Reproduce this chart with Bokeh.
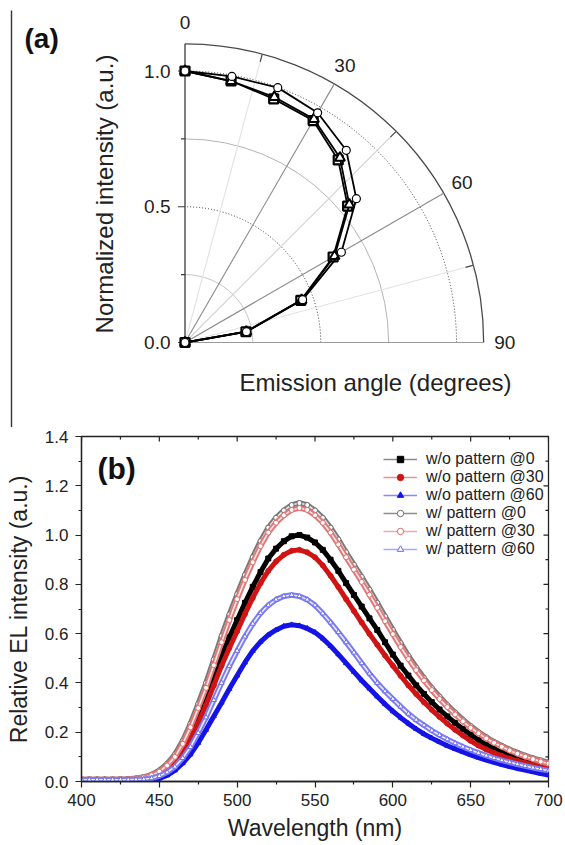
import numpy as np
from bokeh.plotting import figure
from bokeh.layouts import column
from bokeh.models import Range1d, FixedTicker, PrintfTickFormatter, Legend, LegendItem, Label
from bokeh.core.properties import value
from bokeh.embed import file_html
from bokeh.resources import INLINE

FONT = "Liberation Sans"

# ---------------- (a) angular distribution ----------------
angle_deg = [0, 10, 20, 30, 40, 50, 60, 70, 80, 90]
r_square = [1.0, 0.978, 0.955, 0.944, 0.878, 0.782, 0.630, 0.454, 0.228, 0.0]
r_triangle = [1.0, 0.978, 0.962, 0.950, 0.888, 0.790, 0.636, 0.457, 0.229, 0.0]
r_circle = [1.0, 0.995, 0.999, 0.977, 0.924, 0.824, 0.665, 0.461, 0.230, 0.0]
radial_ticks = [0.0, 0.5, 1.0]
radial_minor = [0.25, 0.75]
radial_tick_labels = ["0.0", "0.5", "1.0"]
angle_ticks = [0, 30, 60, 90]
angle_tick_labels = ["0", "30", "60", "90"]

# ---------------- (b) EL spectra ----------------
wavelength = list(range(400, 705, 5))
wo_0 = [0.007, 0.007, 0.007, 0.007, 0.007, 0.007, 0.008, 0.009, 0.012, 0.018,
        0.030, 0.052, 0.085, 0.132, 0.190, 0.262, 0.340, 0.425, 0.510, 0.585,
        0.655, 0.725, 0.790, 0.850, 0.905, 0.945, 0.975, 0.995, 1.000, 0.990,
        0.970, 0.940, 0.900, 0.855, 0.805, 0.757, 0.710, 0.662, 0.615, 0.565,
        0.515, 0.470, 0.430, 0.390, 0.355, 0.322, 0.292, 0.264, 0.238, 0.213,
        0.190, 0.168, 0.149, 0.133, 0.119, 0.107, 0.096, 0.087, 0.079, 0.072,
        0.066]
wo_30 = [0.007, 0.007, 0.007, 0.007, 0.007, 0.007, 0.008, 0.009, 0.011, 0.016,
         0.027, 0.046, 0.075, 0.117, 0.170, 0.237, 0.310, 0.390, 0.470, 0.542,
         0.610, 0.680, 0.745, 0.805, 0.855, 0.893, 0.920, 0.936, 0.940, 0.930,
         0.910, 0.877, 0.835, 0.789, 0.740, 0.692, 0.645, 0.599, 0.555, 0.511,
         0.470, 0.429, 0.390, 0.355, 0.322, 0.291, 0.262, 0.235, 0.210, 0.187,
         0.165, 0.146, 0.130, 0.116, 0.104, 0.093, 0.084, 0.075, 0.068, 0.061,
         0.055]
wo_60 = [0.007, 0.007, 0.007, 0.007, 0.006, 0.006, 0.005, 0.005, 0.004, 0.006,
         0.012, 0.025, 0.045, 0.074, 0.110, 0.157, 0.210, 0.265, 0.320, 0.376,
         0.430, 0.483, 0.530, 0.567, 0.595, 0.615, 0.630, 0.636, 0.632, 0.621,
         0.605, 0.580, 0.550, 0.516, 0.480, 0.445, 0.410, 0.377, 0.345, 0.314,
         0.285, 0.259, 0.235, 0.213, 0.193, 0.176, 0.160, 0.145, 0.132, 0.120,
         0.108, 0.097, 0.087, 0.078, 0.069, 0.061, 0.053, 0.046, 0.039, 0.032,
         0.026]
w_0 = [0.008, 0.008, 0.008, 0.008, 0.008, 0.009, 0.010, 0.013, 0.018, 0.028,
       0.045, 0.072, 0.110, 0.165, 0.235, 0.315, 0.400, 0.495, 0.590, 0.678,
       0.760, 0.838, 0.910, 0.975, 1.030, 1.070, 1.100, 1.122, 1.130, 1.122,
       1.100, 1.070, 1.030, 0.982, 0.930, 0.880, 0.830, 0.778, 0.725, 0.670,
       0.615, 0.562, 0.510, 0.463, 0.420, 0.380, 0.345, 0.310, 0.280, 0.251,
       0.225, 0.201, 0.180, 0.161, 0.145, 0.130, 0.117, 0.105, 0.095, 0.086,
       0.077]
w_30 = [0.008, 0.008, 0.008, 0.008, 0.008, 0.008, 0.009, 0.012, 0.016, 0.025,
        0.040, 0.065, 0.100, 0.153, 0.220, 0.298, 0.380, 0.472, 0.565, 0.655,
        0.740, 0.818, 0.890, 0.955, 1.010, 1.050, 1.080, 1.102, 1.110, 1.102,
        1.080, 1.050, 1.010, 0.962, 0.910, 0.860, 0.810, 0.758, 0.705, 0.651,
        0.598, 0.546, 0.497, 0.452, 0.410, 0.371, 0.335, 0.302, 0.272, 0.244,
        0.218, 0.196, 0.175, 0.157, 0.141, 0.126, 0.113, 0.101, 0.091, 0.081,
        0.072]
w_60 = [0.007, 0.007, 0.007, 0.007, 0.007, 0.007, 0.007, 0.008, 0.009, 0.013,
        0.022, 0.037, 0.060, 0.095, 0.140, 0.197, 0.260, 0.330, 0.400, 0.468,
        0.530, 0.588, 0.640, 0.683, 0.715, 0.738, 0.752, 0.757, 0.752, 0.738,
        0.715, 0.682, 0.645, 0.606, 0.565, 0.523, 0.480, 0.438, 0.400, 0.366,
        0.335, 0.304, 0.275, 0.250, 0.228, 0.207, 0.188, 0.171, 0.155, 0.141,
        0.128, 0.116, 0.105, 0.095, 0.086, 0.078, 0.070, 0.063, 0.056, 0.050,
        0.044]
series_labels = ["w/o pattern @0", "w/o pattern @30", "w/o pattern @60",
                 "w/ pattern @0", "w/ pattern @30", "w/ pattern @60"]
x_ticks = [400, 450, 500, 550, 600, 650, 700]
x_minor = [425, 475, 525, 575, 625, 675]
y_ticks = [0.0, 0.2, 0.4, 0.6, 0.8, 1.0, 1.2, 1.4]
y_minor = [0.1, 0.3, 0.5, 0.7, 0.9, 1.1, 1.3]

# ================= panel (a) =================
PX = 271.5          # pixels per unit radius
OX, OY = 184.5, 342  # origin on the page
TOP_H = 427
top = figure(width=565, height=TOP_H,
             x_range=Range1d(-OX / PX, (565 - OX) / PX),
             y_range=Range1d(-(TOP_H - OY) / PX, OY / PX),
             x_axis_type=None, y_axis_type=None,
             toolbar_location=None, output_backend="svg", min_border=0)
top.outline_line_color = None
top.frame_align = False

R_OUT = 1.1
for r, col, dash, w in [(0.25, "#c6c6c6", "solid", 1.0), (0.5, "#3a3a3a", "1 2", 1.0),
                        (0.75, "#b4b4b4", "solid", 1.0), (1.0, "#3a3a3a", "1 2", 1.0),
                        (R_OUT, "#4a4a4a", "solid", 1.3)]:
    top.arc(x=0, y=0, radius=r, start_angle=0, end_angle=np.pi / 2,
            line_color=col, line_dash=dash, line_width=w)

spoke_angles = [15, 30, 45, 60, 75, 90]
spoke_colors = ["#e2e2e2", "#8a8a8a", "#d2d2d2", "#8a8a8a", "#e2e2e2", "#9a9a9a"]
sa = np.radians(spoke_angles)
top.segment(x0=0, y0=0, x1=R_OUT * np.sin(sa), y1=R_OUT * np.cos(sa),
            line_color=spoke_colors, line_width=1.1)
ta = np.radians([15, 45, 75])
top.segment(x0=R_OUT * np.sin(ta), y0=R_OUT * np.cos(ta),
            x1=(R_OUT - 0.03) * np.sin(ta), y1=(R_OUT - 0.03) * np.cos(ta),
            line_color="#4a4a4a", line_width=1.2)
top.segment(x0=0, y0=0, x1=0, y1=R_OUT, line_color="#3a3a3a", line_width=1.3)
top.segment(x0=0, y0=radial_ticks, x1=-7 / PX, y1=radial_ticks, line_color="#3a3a3a", line_width=1.2)
top.segment(x0=0, y0=radial_minor, x1=-4 / PX, y1=radial_minor, line_color="#3a3a3a", line_width=1.2)
top.text(x=-14.5 / PX, y=radial_ticks, text=radial_tick_labels, text_align="right",
         text_baseline="middle", text_font=value(FONT), text_font_size=value("19px"),
         text_color="#222222")
aa = np.radians(angle_ticks)
top.text(x=1.178 * np.sin(aa), y=1.178 * np.cos(aa), text=angle_tick_labels,
         text_align="center", text_baseline="middle", text_font=value(FONT),
         text_font_size=value("19px"), text_color="#222222")

th = np.radians(angle_deg)
for rv, mk, sz, lw in [(r_square, "square", 9, 2.2), (r_triangle, "triangle", 10, 2.0),
                       (r_circle, "circle", 8, 1.2)]:
    rr = np.array(rv)
    xs = rr * np.sin(th)
    ys = rr * np.cos(th)
    top.line(xs, ys, line_color="black", line_width=1.8)
    top.scatter(xs, ys, marker=mk, size=sz, fill_color="white", line_color="black", line_width=lw)

top.text(x=[(375 - OX) / PX], y=[(OY - 382) / PX], text=["Emission angle (degrees)"],
         text_align="center", text_baseline="middle", text_font=value(FONT),
         text_font_size=value("24px"), text_color="#222222")
top.text(x=[(104 - OX) / PX], y=[(OY - 193.5) / PX], text=["Normalized intensity (a.u.)"],
         angle=np.pi / 2, text_align="center", text_baseline="middle", text_font=value(FONT),
         text_font_size=value("24px"), text_color="#222222")
top.text(x=[(24 - OX) / PX], y=[(OY - 38) / PX], text=["(a)"], text_align="left",
         text_baseline="middle", text_font=value(FONT), text_font_size=value("28px"),
         text_font_style="bold", text_color="#111111")
top.segment(x0=(11 - OX) / PX, y0=(OY - 10) / PX, x1=(11 - OX) / PX, y1=-(TOP_H - OY) / PX,
            line_color="#333333", line_width=1.4)

# ================= panel (b) =================
bot = figure(width=565, height=418, x_range=Range1d(400, 700), y_range=Range1d(0, 1.4),
             toolbar_location=None, output_backend="svg",
             min_border_left=81, min_border_right=17, min_border_top=9, min_border_bottom=64)
bot.frame_align = False
bot.grid.visible = False
bot.outline_line_color = "#222222"
bot.outline_line_width = 1.3

for ax in (bot.xaxis[0], bot.yaxis[0]):
    ax.axis_line_color = "#222222"
    ax.axis_line_width = 1.3
    ax.major_tick_line_color = "#222222"
    ax.minor_tick_line_color = "#222222"
    ax.major_tick_line_width = 1.2
    ax.minor_tick_line_width = 1.2
    ax.major_tick_in = 0
    ax.major_tick_out = 6
    ax.minor_tick_in = 0
    ax.minor_tick_out = 3
    ax.major_label_text_font = FONT
    ax.major_label_text_font_size = "17px"
    ax.major_label_text_color = "#222222"
    ax.axis_label_text_font = FONT
    ax.axis_label_text_font_size = "23px"
    ax.axis_label_text_font_style = "normal"
    ax.axis_label_text_color = "#222222"

bot.xaxis.ticker = FixedTicker(ticks=x_ticks, minor_ticks=x_minor)
bot.yaxis.ticker = FixedTicker(ticks=y_ticks, minor_ticks=y_minor)
bot.yaxis.formatter = PrintfTickFormatter(format="%.1f")
bot.xaxis.axis_label = "Wavelength (nm)"
bot.yaxis.axis_label = "Relative EL intensity (a.u.)"
bot.xaxis.major_label_standoff = 6
bot.xaxis.axis_label_standoff = 6
bot.yaxis.major_label_standoff = 7
bot.yaxis.axis_label_standoff = 10

tick_y_len = 5 / 247.1
tick_x_len = 5 * 300 / 467
bot.segment(x0=x_ticks, y0=1.4, x1=x_ticks, y1=1.4 - tick_y_len, line_color="#222222", line_width=1.2)
bot.segment(x0=x_minor, y0=1.4, x1=x_minor, y1=1.4 - 0.6 * tick_y_len, line_color="#222222", line_width=1.2)
bot.segment(x0=700, y0=y_ticks, x1=700 - tick_x_len, y1=y_ticks, line_color="#222222", line_width=1.2)
bot.segment(x0=700, y0=y_minor, x1=700 - 0.6 * tick_x_len, y1=y_minor, line_color="#222222", line_width=1.2)

# (values, legend line colour, marker, marker fill, marker edge, band colour, open?)
styles = [
    (wo_0, "#8c8c8c", "square", "#000000", "#000000", "#000000", False),
    (wo_30, "#ee9090", "circle", "#d01414", "#d01414", "#d01414", False),
    (wo_60, "#8888ff", "triangle", "#1414e8", "#1414e8", "#1414e8", False),
    (w_0, "#8c8c8c", "circle", "#ffffff", "#6e6e6e", "#7a7a7a", True),
    (w_30, "#f2a8a8", "circle", "#ffffff", "#e06a6a", "#e27777", True),
    (w_60, "#a8a8ff", "triangle", "#ffffff", "#6a6af2", "#7b7bf4", True),
]
items = []
for (vals, lc, mk, fc, mc, bc, is_open), lab in zip(styles, series_labels):
    lr = bot.line(wavelength, vals, line_color=lc, line_width=1.3)
    bot.line(wavelength, vals, line_color=bc, line_width=5.5 if is_open else 5,
             line_join="round")
    if is_open:
        bot.line(wavelength, vals, line_color="white", line_width=1.6, line_alpha=0.85,
                 line_join="round")
    sr = bot.scatter(wavelength, vals, marker=mk, size=5, fill_color=fc, line_color=mc, line_width=1)
    items.append(LegendItem(label=lab, renderers=[lr, sr]))

legend = Legend(items=items, location=(302, 223), padding=0, margin=0, spacing=0,
                glyph_width=34, glyph_height=16, label_height=16, label_standoff=9,
                label_text_font=FONT, label_text_font_size="16px", label_text_color="#222222",
                border_line_color=None, background_fill_alpha=0)
bot.add_layout(legend)

bot.add_layout(Label(x=400 + (97 - 81) * 300 / 467, y=(782 - 468) / 247.1, text="(b)",
                     text_font=FONT, text_font_size="30px", text_font_style="bold",
                     text_align="left", text_baseline="middle", text_color="#111111"))

layout = column(top, bot, spacing=0)
open("out.html", "w").write(file_html(layout, INLINE))
